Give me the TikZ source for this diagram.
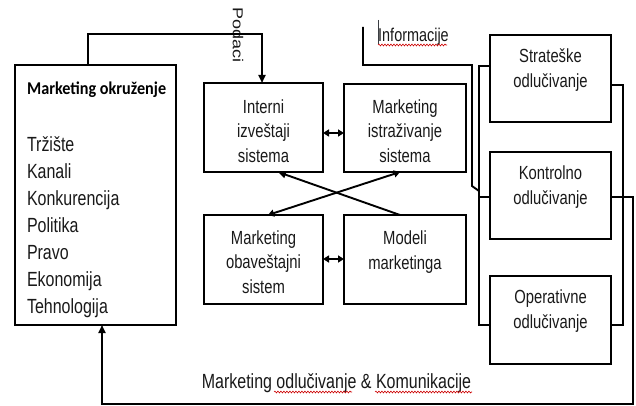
\documentclass[tikz,border=0pt]{standalone}
\usepackage{fontspec}
\setmainfont{Liberation Sans}
\newfontfamily\nar[FakeStretch=0.78]{Liberation Sans}
\newfontfamily\calb[FakeStretch=0.9]{Carlito}
\usetikzlibrary{arrows.meta,decorations.pathmorphing}
\begin{document}
\begin{tikzpicture}[x=1pt,y=-1pt,
  box/.style={draw,line width=2.6pt,inner sep=0pt,outer sep=0pt},
  lbl/.style={inner sep=0pt,outer sep=0pt,align=center,text=black!90,font=\nar\fontsize{19}{24.5}\selectfont},
  item/.style={inner sep=0pt,outer sep=0pt,anchor=base west,text=black!90,font=\nar\fontsize{20.5}{24}\selectfont},
  conn/.style={line width=1.9pt},
  brk/.style={line width=1.7pt},
  tip/.style={-{Triangle[length=8pt,width=7pt]}},
  dtip/.style={{Triangle[length=6pt,width=7pt]}-{Triangle[length=6pt,width=7pt]}},
  wav/.style={red!80!black,line width=0.6pt,decorate,decoration={snake,amplitude=0.9pt,segment length=3pt}}]
\useasboundingbox (0,0) rectangle (636,406);

% boxes
\node[box,minimum width=161,minimum height=260] (env) at (95.5,195) {};
\node[box,minimum width=119,minimum height=89] (int) at (263.5,127.5) {};
\node[box,minimum width=122,minimum height=88] (ist) at (405,128) {};
\node[box,minimum width=119,minimum height=89] (oba) at (263.5,259.5) {};
\node[box,minimum width=122,minimum height=89] (mod) at (405,259.5) {};
\node[box,minimum width=121,minimum height=87] (str) at (550.5,78.5) {};
\node[box,minimum width=121,minimum height=87] (kon) at (550.5,195.5) {};
\node[box,minimum width=121,minimum height=88] (ope) at (550.5,320) {};

% box texts
\node[inner sep=0pt,anchor=base west,font=\calb\bfseries\fontsize{18}{20}\selectfont] (envt) at (27,95) {Marketing okruženje};
\node[item] (i1) at (27,152) {Tržište};
\node[item] (i2) at (27,178) {Kanali};
\node[item] (i3) at (27,205) {Konkurencija};
\node[item] (i4) at (27,232) {Politika};
\node[item] (i5) at (27,259) {Pravo};
\node[item] (i6) at (27,286) {Ekonomija};
\node[item] (i7) at (27,313) {Tehnologija};

\node[lbl] (intt) at (263.5,131) {Interni\\izveštaji\\sistema};
\node[lbl] (istt) at (405,131) {Marketing\\istraživanje\\sistema};
\node[lbl] (obat) at (263.5,262) {Marketing\\obaveštajni\\sistem};
\node[lbl] (modt) at (405,252) {Modeli\\marketinga};
\node[lbl] (strt) at (550.5,70) {Strateške\\odlučivanje};
\node[lbl] (kont) at (550.5,187) {Kontrolno\\odlučivanje};
\node[lbl] (opet) at (550.5,311) {Operativne\\odlučivanje};

% free labels
\node[inner sep=0pt,rotate=-90,text=black!90,font=\fontsize{18}{20}\selectfont] (pod) at (238,35) {\scalebox{1}[0.8]{Podaci}};
\node[inner sep=0pt,anchor=base west,text=black!90,font=\nar\fontsize{18.5}{20}\selectfont] (inf) at (378,42) {Informacije};
\node[inner sep=0pt,anchor=base,text=black!90,font=\nar\fontsize{20.5}{22}\selectfont] (mok) at (336.5,388) {Marketing odlučivanje \& Komunikacije};

% spell-check marks and cursor
\draw[wav] (378,45) -- (447,45);
\draw[wav] (274,392) -- (352,392);
\draw[wav] (375,392) -- (472,392);
\draw[line width=1pt,black!85!cyan] (378,20) -- (378,44);

% connectors
\draw[conn,tip] (env.north -| 88,0) |- (262,34) -- (int.north -| 262,0);
\draw[conn,dtip] (int.east |- 0,133) -- (ist.west |- 0,133);
\draw[conn,dtip] (oba.east |- 0,259) -- (mod.west |- 0,259);
\draw[conn,tip] (mod.north -| 400,0) -- (int.south -| 278,0);
\draw[conn,dtip] (oba.north -| 268,0) -- (ist.south -| 400,0);

\coordinate (infa) at (363,27);
\coordinate (infb) at (479,191);
\draw[conn] (infa) |- (472,65) -- (472,186) -- (infb);

\draw[brk] (str.west |- 0,66) -- (479,66) -- (479,325) -- (ope.west |- 0,325);
\draw[brk] (kon.west |- 0,197) -- (479,197);
\draw[brk] (str.east |- 0,85) -- (623,85) -- (623,325) -- (ope.east |- 0,325);
\draw[brk] (kon.east |- 0,197) -- (633,197);
\draw[conn,tip] (623,197) -| (633,404) -| (env.south -| 102,0);
\end{tikzpicture}
\end{document}
